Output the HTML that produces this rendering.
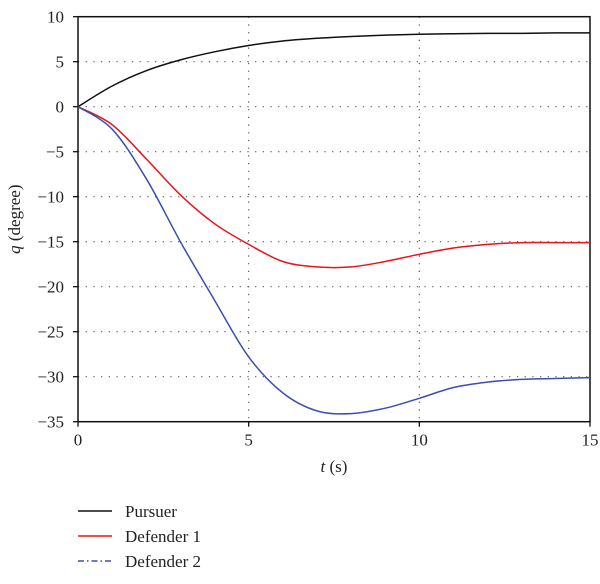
<!DOCTYPE html>
<html><head><meta charset="utf-8"><style>
body{margin:0;background:#fff;width:600px;height:579px;overflow:hidden}
svg text{font-family:"Liberation Serif",serif;font-size:17px;fill:#222}
</style></head><body>
<svg id="chart" width="600" height="579" xmlns="http://www.w3.org/2000/svg"></svg>
<script>
const xTicks=[0,5,10,15];
const yTicks=[10,5,0,-5,-10,-15,-20,-25,-30,-35];
const tSeries=[0,1,2,3,4,5,6,7,8,9,10,11,12,13,14,15];
const qPursuer=[0,2.3,4.0,5.2,6.1,6.8,7.3,7.6,7.8,7.95,8.05,8.1,8.15,8.15,8.2,8.2];
const qDef1=[0,-2,-5.8,-9.8,-13,-15.3,-17.2,-17.8,-17.8,-17.2,-16.4,-15.7,-15.3,-15.1,-15.1,-15.1];
const qDef2=[0,-2.5,-8,-15,-21.5,-27.8,-31.8,-33.8,-34.1,-33.5,-32.4,-31.2,-30.6,-30.3,-30.2,-30.1];
const L=78,R=590,T=16.7,B=421.7;
const X=v=>L+(v-0)/15*(R-L);
const Y=v=>T+(10-v)/45*(B-T);
const svg=document.getElementById('chart');
const NS='http://www.w3.org/2000/svg';
function mk(tag,attrs,txt){const e=document.createElementNS(NS,tag);for(const k in attrs)e.setAttribute(k,attrs[k]);if(txt!==undefined)e.textContent=txt;svg.appendChild(e);return e;}
yTicks.forEach(v=>{if(v<10&&v>-35){const g=mk('line',{x1:L,x2:R,y1:Y(v),y2:Y(v),stroke:'#555','stroke-width':1.2,'stroke-dasharray':'1.2 6.5'});

}});
xTicks.forEach(v=>{if(v>0&&v<15){const g=mk('line',{x1:X(v),x2:X(v),y1:T,y2:B,stroke:'#555','stroke-width':1.2,'stroke-dasharray':'1.2 6.5'});

}});
const fr=mk('rect',{x:L,y:T,width:R-L,height:B-T,fill:'none',stroke:'#111','stroke-width':1.5});


xTicks.forEach(v=>{mk('line',{x1:X(v),x2:X(v),y1:B,y2:B+5,stroke:'#111','stroke-width':1.3});
const t=mk('text',{x:X(v),y:B+24,'text-anchor':'middle'},String(v));

});
yTicks.forEach(v=>{mk('line',{x1:L-5,x2:L,y1:Y(v),y2:Y(v),stroke:'#111','stroke-width':1.3});
const t=mk('text',{x:L-14,y:Y(v)+6,'text-anchor':'end'},String(v).replace('-','\u2212'));

});
const xt=mk('text',{x:334,y:472,'text-anchor':'middle'});
xt.innerHTML='<tspan font-style="italic">t</tspan> (s)';


const yt=mk('text',{x:0,y:0,'text-anchor':'middle',transform:'translate(20,'+((T+B)/2)+') rotate(-90)'});
yt.innerHTML='<tspan font-style="italic">q</tspan> (degree)';


function path(ts,qs){const p=ts.map((t,i)=>[X(t),Y(qs[i])]);let d='M'+p[0][0]+','+p[0][1];
for(let i=0;i<p.length-1;i++){const p0=p[Math.max(0,i-1)],p1=p[i],p2=p[i+1],p3=p[Math.min(p.length-1,i+2)];
const c1=[p1[0]+(p2[0]-p0[0])/6,p1[1]+(p2[1]-p0[1])/6],c2=[p2[0]-(p3[0]-p1[0])/6,p2[1]-(p3[1]-p1[1])/6];
d+=' C'+c1+' '+c2+' '+p2;}return d;}
const s1=mk('path',{d:path(tSeries,qPursuer),fill:'none',stroke:'#111','stroke-width':1.5});


const s2=mk('path',{d:path(tSeries,qDef1),fill:'none',stroke:'#e8141c','stroke-width':1.5});


const s3=mk('path',{d:path(tSeries,qDef2),fill:'none',stroke:'#3a4fb0','stroke-width':1.5});


const leg=[['Pursuer','#111',null,516],['Defender 1','#e8141c',null,541],['Defender 2','#3a4fb0','6 3 1.5 3',566]];
leg.forEach(([n,c,da,y])=>{const a={x1:78,x2:112,y1:y-5,y2:y-5,stroke:c,'stroke-width':1.5};if(da)a['stroke-dasharray']=da;
const ln=mk('line',a);


const t=mk('text',{x:125,y:y+1},n);

});
</script>
</body></html>
